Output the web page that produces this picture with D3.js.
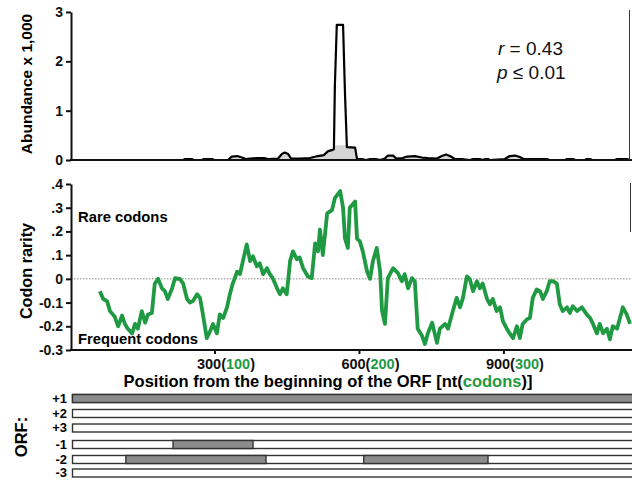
<!DOCTYPE html>
<html>
<head>
<meta charset="utf-8">
<script src="https://cdn.jsdelivr.net/npm/d3@7"></script>
<style>
  body { margin: 0; background: #fff; }
  svg { font-family: 'Liberation Sans', Arial, sans-serif; display: block; }
  .axis text { font-weight: bold; font-size: 14px; fill: #111; }
  .axis path, .axis line { stroke: #111; stroke-width: 2; }
</style>
</head>
<body>
<svg id="chart" width="632" height="480"></svg>
<script>
// position in nt, abundance x 1,000
const abundancePos = [235, 239, 253, 257, 274, 278, 295, 299, 328, 336, 347, 357, 365, 374, 390, 403, 411, 432, 440, 446, 453, 459, 477, 498, 515, 527, 536, 544, 548, 550, 554, 567, 571, 575, 592, 596, 606, 615, 623, 635, 644, 654, 660, 671, 677, 691, 700, 716, 731, 743, 762, 772, 781, 791, 799, 814, 830, 837, 851, 857, 862, 868, 872, 903, 913, 924, 934, 942, 961, 990, 996, 1028, 1032, 1044, 1050, 1069, 1073, 1080, 1084, 1131, 1136, 1156, 1163];
const abundance = [0, 0.02, 0.02, 0, 0, 0.02, 0.02, 0, 0, 0.07, 0.08, 0.05, 0.02, 0.03, 0.04, 0.04, 0.02, 0.03, 0.12, 0.15, 0.12, 0.03, 0.03, 0.04, 0.08, 0.1, 0.18, 0.2, 0.22, 1.5, 2.74, 2.74, 1.35, 0.26, 0.25, 0.02, 0.02, 0, 0.02, 0.02, 0, 0.03, 0.09, 0.09, 0.03, 0.04, 0.07, 0.08, 0.05, 0.04, 0.03, 0.08, 0.11, 0.07, 0.02, 0.02, 0, 0.02, 0.02, 0, 0.02, 0.02, 0, 0.02, 0.08, 0.09, 0.06, 0.02, 0.02, 0.02, 0, 0, 0.02, 0.02, 0, 0, 0.02, 0.02, 0, 0, 0.02, 0.02, 0];

// position in nt, codon rarity
const rarityPos = [62, 69, 77, 83, 93, 100, 108, 114, 120, 129, 135, 141, 149, 156, 162, 170, 176, 183, 191, 197, 203, 212, 218, 228, 235, 243, 249, 255, 264, 270, 276, 284, 291, 297, 305, 311, 318, 326, 332, 338, 347, 353, 359, 367, 374, 380, 388, 394, 401, 409, 415, 421, 430, 436, 442, 450, 457, 463, 471, 477, 484, 494, 502, 509, 515, 519, 525, 534, 544, 550, 561, 567, 571, 577, 581, 592, 596, 602, 608, 617, 623, 629, 637, 644, 648, 654, 660, 671, 681, 689, 695, 702, 710, 716, 722, 731, 737, 743, 752, 762, 768, 779, 785, 795, 803, 810, 816, 824, 830, 837, 845, 851, 857, 866, 872, 878, 886, 893, 899, 907, 913, 920, 928, 934, 940, 949, 955, 961, 969, 976, 982, 990, 996, 1003, 1011, 1017, 1023, 1032, 1038, 1044, 1053, 1063, 1073, 1080, 1086, 1094, 1100, 1107, 1115, 1121, 1127, 1136, 1142, 1148, 1156, 1163];
const rarity = [-0.052, -0.085, -0.094, -0.136, -0.16, -0.2, -0.155, -0.19, -0.21, -0.23, -0.19, -0.21, -0.136, -0.185, -0.15, -0.144, -0.02, 0, -0.04, -0.052, -0.085, -0.04, 0.003, 0, -0.02, -0.085, -0.1, -0.094, -0.065, -0.08, -0.15, -0.25, -0.22, -0.19, -0.23, -0.15, -0.165, -0.12, -0.065, -0.02, 0.03, 0.02, 0.075, 0.145, 0.075, 0.095, 0.053, 0.066, 0.02, 0.045, 0.02, 0.003, -0.04, -0.065, -0.04, -0.065, 0.075, 0.116, 0.083, 0.09, 0.045, 0.01, 0.003, 0.15, 0.116, 0.208, 0.1, 0.276, 0.29, 0.34, 0.37, 0.3, 0.17, 0.13, 0.3, 0.326, 0.17, 0.158, 0.116, 0.03, 0, 0.075, 0.13, 0.03, -0.136, -0.19, 0.003, 0.045, 0.024, -0.01, 0.02, -0.04, 0.003, -0.01, -0.21, -0.24, -0.275, -0.23, -0.185, -0.27, -0.21, -0.19, -0.21, -0.136, -0.08, -0.12, -0.08, 0.01, 0, -0.052, -0.01, -0.04, -0.02, -0.085, -0.107, -0.085, -0.136, -0.12, -0.178, -0.21, -0.23, -0.25, -0.2, -0.25, -0.19, -0.17, -0.165, -0.08, -0.045, -0.052, -0.085, -0.052, -0.01, -0.01, -0.02, -0.107, -0.136, -0.12, -0.144, -0.115, -0.136, -0.12, -0.15, -0.165, -0.19, -0.23, -0.19, -0.23, -0.21, -0.255, -0.2, -0.21, -0.165, -0.12, -0.15, -0.19];

const xTicks = [300, 600, 900];
const codonTicks = [100, 200, 300];
const topTicks = [0, 1, 2, 3];
const rarityTicks = [0.4, 0.3, 0.2, 0.1, 0, -0.1, -0.2, -0.3];
const rarityTickLabels = ['.4', '.3', '.2', '.1', '0', '-0.1', '-0.2', '-0.3'];

// ORF frames and grey (open) segments in nt
const orfFrames = ['+1', '+2', '+3', '-1', '-2', '-3'];
const orfSegments = [
  { frame: '+1', start: 5, end: 1167 },
  { frame: '-1', start: 214, end: 380 },
  { frame: '-2', start: 116, end: 407 },
  { frame: '-2', start: 610, end: 868 },
];

const green = '#1f9a43';
const svg = d3.select('#chart');

const x = d3.scaleLinear().domain([0, 1167]).range([70, 632]);
const yTop = d3.scaleLinear().domain([0, 3]).range([160, 12]);
const yBot = d3.scaleLinear().domain([-0.3, 0.4]).range([350, 184]);

// ---- top panel: abundance
const topData = abundancePos.map((p, i) => [p, abundance[i]]);

// light fill only shows under the low bumps, the peak stays white
svg.append('clipPath').attr('id', 'lowClip')
  .append('rect')
  .attr('x', 70).attr('width', 562)
  .attr('y', yTop(0.3)).attr('height', yTop(0) - yTop(0.3));
svg.append('path')
  .datum(topData)
  .attr('clip-path', 'url(#lowClip)')
  .attr('fill', '#d6d6d6')
  .attr('d', d3.area().x((d) => x(d[0])).y0(yTop(0)).y1((d) => yTop(d[1])));
svg.append('path')
  .datum(topData)
  .attr('fill', 'none')
  .attr('stroke', '#000')
  .attr('stroke-width', 2.2)
  .attr('stroke-linejoin', 'round')
  .attr('d', d3.line().x((d) => x(d[0])).y((d) => yTop(d[1])));

svg.append('g')
  .attr('class', 'axis')
  .attr('transform', 'translate(71,0)')
  .call(d3.axisLeft(yTop).tickValues(topTicks).tickFormat(d3.format('d'))
    .tickSize(5).tickSizeOuter(0).tickPadding(3));
svg.append('line')
  .attr('x1', 70).attr('x2', 632).attr('y1', yTop(0)).attr('y2', yTop(0))
  .attr('stroke', '#111').attr('stroke-width', 2);
svg.append('line')
  .attr('x1', 629.5).attr('x2', 629.5).attr('y1', 10).attr('y2', 160)
  .attr('stroke', '#333').attr('stroke-width', 1);

svg.append('text')
  .attr('transform', 'translate(32,84) rotate(-90)')
  .attr('text-anchor', 'middle')
  .attr('font-weight', 'bold').attr('font-size', 15.5)
  .text('Abundance x 1,000');

const stats = svg.append('g').attr('font-size', 19).attr('fill', '#111');
const r = stats.append('text').attr('x', 498).attr('y', 55);
r.append('tspan').attr('font-style', 'italic').text('r');
r.append('tspan').text(' = 0.43');
const p = stats.append('text').attr('x', 497).attr('y', 79);
p.append('tspan').attr('font-style', 'italic').text('p');
p.append('tspan').text(' \u2264 0.01');

// ---- bottom panel: codon rarity
svg.append('line')
  .attr('x1', 71).attr('x2', 632).attr('y1', yBot(0)).attr('y2', yBot(0))
  .attr('stroke', '#888').attr('stroke-width', 1).attr('stroke-dasharray', '1.5,1.5');

svg.append('line')
  .attr('x1', 630.5).attr('x2', 630.5).attr('y1', 183).attr('y2', 232)
  .attr('stroke', '#333').attr('stroke-width', 1);

const botData = rarityPos.map((p, i) => [p, rarity[i]]);
svg.append('path')
  .datum(botData)
  .attr('fill', 'none')
  .attr('stroke', green)
  .attr('stroke-width', 3.8)
  .attr('stroke-linejoin', 'round')
  .attr('d', d3.line().x((d) => x(d[0])).y((d) => yBot(d[1])));

svg.append('g')
  .attr('class', 'axis')
  .attr('transform', 'translate(71,0)')
  .call(d3.axisLeft(yBot).tickValues(rarityTicks)
    .tickFormat((d, i) => rarityTickLabels[i])
    .tickSize(5).tickSizeOuter(0).tickPadding(3));

const xAxis = svg.append('g')
  .attr('class', 'axis')
  .attr('transform', `translate(0,${yBot(-0.3)})`)
  .call(d3.axisBottom(x).tickValues(xTicks).tickSize(4).tickSizeOuter(0).tickFormat(''));
xAxis.select('.domain').attr('d', 'M70,0H632');
xAxis.selectAll('.tick').append('text')
  .attr('y', 19)
  .attr('x', 11)
  .attr('text-anchor', 'middle')
  .style('font-size', '14.5px')
  .each(function (d, i) {
    const t = d3.select(this);
    t.append('tspan').text(`${d}(`);
    t.append('tspan').attr('fill', green).text(codonTicks[i]);
    t.append('tspan').text(')');
  });

svg.append('text')
  .attr('transform', 'translate(32,271) rotate(-90)')
  .attr('text-anchor', 'middle')
  .attr('font-weight', 'bold').attr('font-size', 16.2)
  .text('Codon rarity');

svg.append('text').attr('x', 78).attr('y', 222)
  .attr('font-weight', 'bold').attr('font-size', 14.8).text('Rare codons');
svg.append('text').attr('x', 78).attr('y', 344)
  .attr('font-weight', 'bold').attr('font-size', 14.8).text('Frequent codons');

const xt = svg.append('text')
  .attr('x', 328).attr('y', 387)
  .attr('text-anchor', 'middle')
  .attr('font-weight', 'bold').attr('font-size', 16.5);
xt.append('tspan').text('Position from the beginning of the ORF [nt(');
xt.append('tspan').attr('fill', green).text('codons');
xt.append('tspan').text(')]');

// ---- ORF frames
const yOrf = d3.scaleOrdinal().domain(orfFrames).range([394, 409, 423.5, 440, 455, 468.5]);
const barH = 8;

svg.append('g').selectAll('rect.frame')
  .data(orfFrames)
  .join('rect')
  .attr('x', 72.5).attr('y', (d) => yOrf(d) + 0.5)
  .attr('width', 570).attr('height', barH)
  .attr('fill', '#fff').attr('stroke', '#333').attr('stroke-width', 1.4);

svg.append('g').selectAll('rect.seg')
  .data(orfSegments)
  .join('rect')
  .attr('x', (d) => Math.max(72.5, x(d.start)))
  .attr('y', (d) => yOrf(d.frame) + 0.5)
  .attr('width', (d) => x(d.end) - Math.max(72.5, x(d.start)) + (d.end > 1160 ? 20 : 0))
  .attr('height', barH)
  .attr('fill', '#8c8c8c').attr('stroke', '#333').attr('stroke-width', 1.4);

svg.append('g').selectAll('text')
  .data(orfFrames)
  .join('text')
  .attr('x', 67).attr('y', (d) => yOrf(d) + barH / 2 + 4.5)
  .attr('text-anchor', 'end')
  .attr('font-weight', 'bold').attr('font-size', 13)
  .text((d) => d);

svg.append('text')
  .attr('transform', 'translate(27,437) rotate(-90)')
  .attr('text-anchor', 'middle')
  .attr('font-weight', 'bold').attr('font-size', 16.5)
  .text('ORF:');
</script>
</body>
</html>
